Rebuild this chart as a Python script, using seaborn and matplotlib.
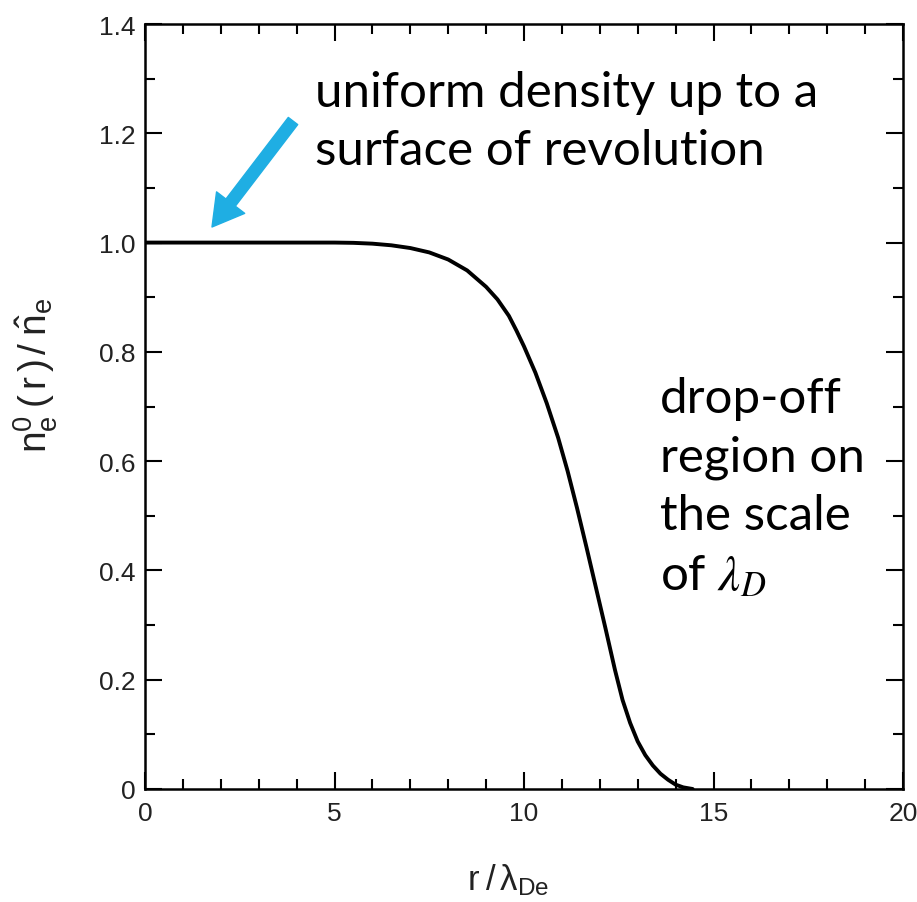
import numpy as np
import pandas as pd
import matplotlib
matplotlib.use("Agg")
import matplotlib.pyplot as plt
from matplotlib.ticker import MultipleLocator, FixedLocator, FixedFormatter
import seaborn as sns

# ---- data ----
r_vals = [0, 2, 4, 5, 5.5, 6, 6.5, 7, 7.5, 8, 8.5, 9, 9.3, 9.6, 9.8, 10.0,
          10.3, 10.6, 10.9, 11.15, 11.4, 11.65, 11.9, 12.15, 12.4, 12.6,
          12.8, 13.0, 13.2, 13.4, 13.6, 13.8, 14.0, 14.2, 14.45]
n_vals = [1.0, 1.0, 1.0, 1.0, 0.9995, 0.998, 0.995, 0.99, 0.982, 0.969,
          0.949, 0.919, 0.896, 0.866, 0.839, 0.81, 0.762, 0.706, 0.643,
          0.582, 0.514, 0.442, 0.368, 0.294, 0.218, 0.163, 0.121, 0.087,
          0.062, 0.043, 0.028, 0.017, 0.008, 0.003, 0.0]
x_ticks = [0, 5, 10, 15, 20]
x_ticklabels = ["0", "5", "10", "15", "20"]
y_ticks = [0, 0.2, 0.4, 0.6, 0.8, 1.0, 1.2, 1.4]
y_ticklabels = ["0", "0.2", "0.4", "0.6", "0.8", "1.0", "1.2", "1.4"]
note_top = "uniform density up to a\nsurface of revolution"
note_right = "drop-off\nregion on\nthe scale\nof $\\lambda_D$"
x_label = r"$\mathregular{r\;/\,\lambda_{De}}$"
y_label = r"$\mathregular{n_e^0\;(\,r\,)\,/\;\hat{n}_e}$"

df = pd.DataFrame({"r": r_vals, "n": n_vals})

sns.set_theme(style="ticks")
plt.rcParams["font.family"] = ["Liberation Sans", "DejaVu Sans"]
plt.rcParams["mathtext.fontset"] = "stix"

W, H = 917, 903
fig = plt.figure(figsize=(W / 100, H / 100), dpi=100)
ax = fig.add_axes([145 / W, 1 - 790 / H, (903 - 145) / W, (790 - 25) / H])

sns.lineplot(data=df, x="r", y="n", ax=ax, color="black", linewidth=2.8)

ax.set_xlim(0, 20)
ax.set_ylim(0, 1.4)
ax.xaxis.set_major_locator(FixedLocator(x_ticks))
ax.xaxis.set_major_formatter(FixedFormatter(x_ticklabels))
ax.xaxis.set_minor_locator(MultipleLocator(1))
ax.yaxis.set_major_locator(FixedLocator(y_ticks))
ax.yaxis.set_major_formatter(FixedFormatter(y_ticklabels))
ax.yaxis.set_minor_locator(MultipleLocator(0.1))

for s in ax.spines.values():
    s.set_visible(True)
    s.set_linewidth(1.8)
    s.set_color("black")

ax.tick_params(which="both", direction="in", top=True, right=True,
               color="black", width=1.5)
ax.tick_params(which="major", length=12, labelsize=19, labelcolor="#222222")
ax.tick_params(axis="x", which="major", pad=9)
ax.tick_params(axis="y", which="major", pad=7)
ax.tick_params(which="minor", length=7)

ax.set_xlabel(x_label, fontsize=25, color="#222222")
ax.set_ylabel(y_label, fontsize=28, color="#222222")
ax.xaxis.set_label_coords((508 - 145) / (903 - 145), -(880 - 790) / (790 - 25))
ax.yaxis.set_label_coords(-(145 - 36) / (903 - 145), (790 - 375) / (790 - 25))
ax.xaxis.label.set_va("center")
ax.yaxis.label.set_va("center")

fig.text(315 / W, 1 - 165 / H, note_top, fontsize=35.5, family="Lato",
         va="baseline", ha="left", linespacing=1.4, color="black")
fig.text(660 / W, 1 - 590 / H, note_right, fontsize=35.5, family="Lato",
         va="baseline", ha="left", linespacing=1.4, color="black")

ax.annotate("", xy=(212 / W, 1 - 228 / H), xytext=(293 / W, 1 - 122 / H),
            xycoords="figure fraction", textcoords="figure fraction",
            arrowprops=dict(arrowstyle="simple,head_length=1.3,head_width=1.5,tail_width=0.5",
                            color="#1FAEE3", mutation_scale=17,
                            shrinkA=0, shrinkB=0))

fig.savefig("out.png", dpi=100)
